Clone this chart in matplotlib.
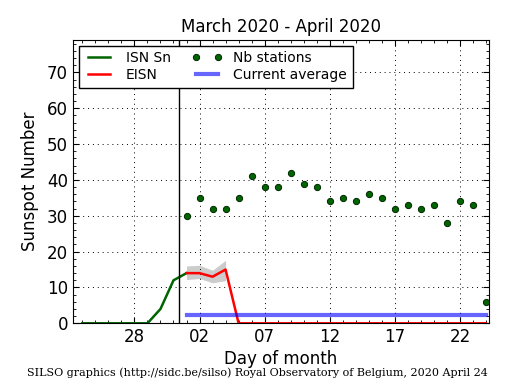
import matplotlib
matplotlib.use('Agg')
import matplotlib.pyplot as plt

plt.rcParams['font.family'] = ['DejaVu Sans']
plt.rcParams['xtick.direction'] = 'in'
plt.rcParams['ytick.direction'] = 'in'
plt.rcParams['xtick.top'] = True
plt.rcParams['ytick.right'] = True
plt.rcParams['xtick.major.size'] = 4
plt.rcParams['ytick.major.size'] = 4
plt.rcParams['xtick.minor.size'] = 2
plt.rcParams['ytick.minor.size'] = 2
plt.rcParams['xtick.major.pad'] = 3.5
plt.rcParams['ytick.major.pad'] = 3.5

# days counted from 1 March (April d = 31 + d)
isn_days = [24, 25, 26, 27, 28, 29, 30, 31, 32]
isn_vals = [0, 0, 0, 0, 0, 0, 4, 12, 14]

eisn_days = list(range(32, 56))
eisn_vals = [14, 14, 13, 15] + [0] * 20
band_days = [32, 33, 34, 35]
band_low = [12.2, 12.5, 11.3, 11.9]
band_high = [16.0, 16.2, 14.8, 17.6]

stations_days = list(range(32, 56))
stations_vals = [30, 35, 32, 32, 35, 41, 38, 38, 42, 39, 38, 34,
                 35, 34, 36, 35, 32, 33, 32, 33, 28, 34, 33, 6]

avg_days = [32, 55]
avg_vals = [2.3, 2.3]

tick_days = [28, 33, 38, 43, 48, 53]
tick_labels = ['28', '02', '07', '12', '17', '22']

fig = plt.figure(figsize=(5.15, 3.9), dpi=100)
ax = fig.add_axes([0.1417, 0.171, 0.8083, 0.726])

ax.fill_between(band_days, band_low, band_high, color='0.8', linewidth=0)
ax.plot(isn_days, isn_vals, color='darkgreen', lw=1.8, label='ISN Sn')
ax.plot(eisn_days, eisn_vals, color='red', lw=1.8, label='EISN')
ax.plot(stations_days, stations_vals, 'o', color='darkgreen', ms=4.5,
        mec='#002800', mew=0.7, label='Nb stations')
ax.plot(avg_days, avg_vals, color='blue', alpha=0.6, lw=3, label='Current average')
ax.axvline(31.45, color='black', lw=1)

ax.set_xlim(23.28, 55.25)
ax.set_ylim(0, 79)
ax.set_xticks(tick_days)
ax.set_xticklabels(tick_labels)
ax.set_xticks(range(24, 56), minor=True)
ax.set_yticks(range(0, 71, 10))
ax.set_yticks(range(0, 79, 2), minor=True)
ax.tick_params(labelsize=12)
ax.grid(True, which='major', color='black', linestyle=(0, (1, 4)), lw=0.7)

ax.set_title('March 2020 - April 2020', fontsize=12)
ax.set_xlabel('Day of month', fontsize=12, labelpad=3)
ax.set_ylabel('Sunspot Number', fontsize=12, labelpad=6)

leg = ax.legend(loc='upper left', ncol=2, numpoints=2, fontsize=10,
                fancybox=False, framealpha=1, edgecolor='black',
                borderaxespad=0.4, handlelength=2.2, columnspacing=1.5,
                borderpad=0.4, labelspacing=0.2)
leg.get_frame().set_linewidth(1)

fig.text(0.5, 0.035, 'SILSO graphics (http://sidc.be/silso) Royal Observatory of Belgium, 2020 April 24',
         ha='center', fontsize=8, family='DejaVu Serif')

fig.savefig('out.png', dpi=100)
